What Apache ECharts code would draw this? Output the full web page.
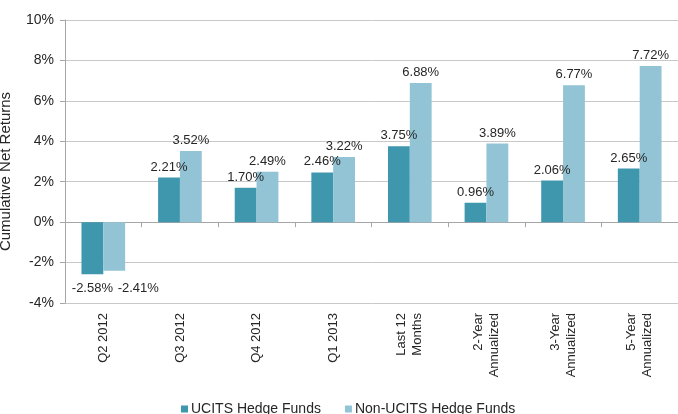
<!DOCTYPE html>
<html>
<head>
<meta charset="utf-8">
<script src="https://cdn.jsdelivr.net/npm/echarts@6/dist/echarts.min.js"></script>
<style>
html,body{margin:0;padding:0;background:#fff;}
#c{width:678px;height:414px;}
</style>
</head>
<body>
<div id="c"></div>
<script>
const categories = ['Q2 2012','Q3 2012','Q4 2012','Q1 2013','Last 12\nMonths','2-Year\nAnnualized','3-Year\nAnnualized','5-Year\nAnnualized'];
const ucits = [-2.58, 2.21, 1.70, 2.46, 3.75, 0.96, 2.06, 2.65];
const nonUcits = [-2.41, 3.52, 2.49, 3.22, 6.88, 3.89, 6.77, 7.72];
const seriesNames = ['UCITS Hedge Funds','Non-UCITS Hedge Funds'];
const yTitle = 'Cumulative Net Returns';

const FONT = 'Liberation Sans';
const TXT = '#262626';
const chart = echarts.init(document.getElementById('c'), null, {renderer:'canvas'});
const labelCfg = {
  show: true,
  position: 'outside',
  distance: 4,
  color: TXT,
  fontFamily: FONT,
  fontSize: 13,
  formatter: p => p.value.toFixed(2) + '%'
};
// negative labels sit a bit lower; the second one is pushed sideways to avoid collision
const nonUcitsData = nonUcits.map((v, i) => i === 0 ? {value: v, label: {offset: [24, 7]}} : v);
const ucitsData = ucits.map((v, i) => i === 0 ? {value: v, label: {offset: [0, 4]}} : v);

chart.setOption({
  animation: false,
  textStyle: {fontFamily: FONT},
  grid: {left: 65, right: 0, top: 20, bottom: 111, containLabel: false, outerBoundsMode: 'none'},
  legend: {
    data: seriesNames,
    left: 176, top: 397,
    icon: 'rect', itemWidth: 7, itemHeight: 7, itemGap: 24,
    textStyle: {fontFamily: FONT, fontSize: 14, color: TXT, padding: [0,0,0,-2]}
  },
  xAxis: [{
    type: 'category',
    data: categories,
    position: 'bottom',
    axisLine: {show: false, onZero: false},
    axisTick: {show: false},
    axisLabel: {rotate: 90, margin: 10, color: TXT, fontFamily: FONT, fontSize: 13, interval: 0, lineHeight: 16}
  },{
    type: 'category',
    data: categories,
    position: 'bottom',
    axisLine: {show: true, onZero: true, lineStyle: {color: '#a6a6a6', width: 1}},
    axisTick: {show: true, interval: 0, length: 5, lineStyle: {color: '#a6a6a6'}},
    axisLabel: {show: false, interval: 0}
  }],
  yAxis: {
    type: 'value',
    min: -4, max: 10, interval: 2,
    name: yTitle,
    nameLocation: 'middle',
    nameGap: 52,
    nameTextStyle: {color: TXT, fontFamily: FONT, fontSize: 15, padding: [0, 20, 0, 0]},
    axisLine: {show: true, lineStyle: {color: '#a6a6a6'}},
    axisTick: {show: true, length: 5, lineStyle: {color: '#a6a6a6'}},
    axisLabel: {color: TXT, fontFamily: FONT, fontSize: 14, margin: 11, formatter: '{value}%'},
    splitLine: {show: true, lineStyle: {color: '#c8c8c8', width: 1}}
  },
  series: [{
    name: seriesNames[0],
    type: 'bar',
    data: ucitsData,
    barGap: '0%',
    barCategoryGap: '43%',
    itemStyle: {color: '#3f97ae'},
    label: labelCfg
  },{
    name: seriesNames[1],
    type: 'bar',
    data: nonUcitsData,
    barGap: '0%',
    barCategoryGap: '43%',
    itemStyle: {color: '#93c4d6'},
    label: labelCfg
  }]
});
</script>
</body>
</html>
